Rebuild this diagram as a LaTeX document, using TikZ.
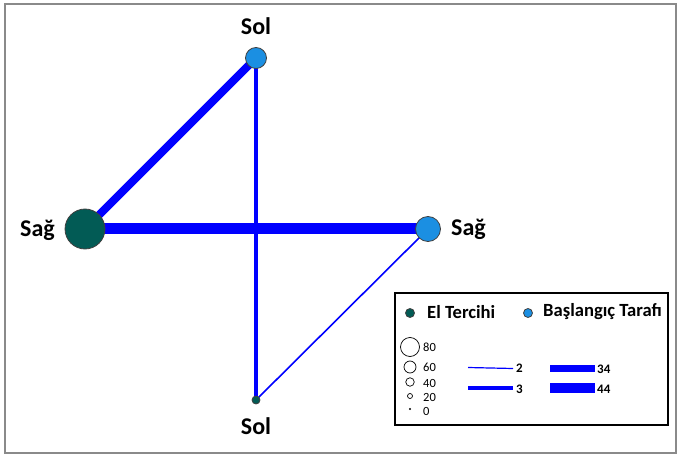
\documentclass[tikz,border=0pt]{standalone}
\usepackage{fontspec}
\setmainfont{Carlito}
\definecolor{nodegreen}{HTML}{025B55}
\definecolor{nodeblue}{HTML}{1B8FE2}
\definecolor{edgeblue}{HTML}{0000FF}
\definecolor{framegray}{HTML}{8A8A8A}
\begin{document}
\begin{tikzpicture}[x=1pt,y=-1pt,
  vtx/.style={circle,draw=black!75,line width=0.8pt,inner sep=0pt},
  hand/.style={vtx,fill=nodegreen},
  start/.style={vtx,fill=nodeblue},
  lbl/.style={font=\bfseries\fontsize{24}{24}\selectfont,inner sep=0pt},
  edge/.style={draw=edgeblue},
  legtxt/.style={font=\bfseries\fontsize{18.6}{18.6}\selectfont,inner sep=0pt,anchor=west},
  numtxt/.style={font=\fontsize{12.5}{12.5}\selectfont,inner sep=0pt,anchor=west},
  wtxt/.style={font=\bfseries\fontsize{13}{13}\selectfont,inner sep=0pt,anchor=west},
  sizec/.style={circle,draw=black,line width=0.7pt,fill=white,inner sep=0pt}
]
\useasboundingbox (0,0) rectangle (677,454);
\draw[framegray,line width=1.2pt] (5,4) rectangle (676,453);

% nodes
\coordinate (cst) at (256,58);
\coordinate (chl) at (85,229);
\coordinate (csr) at (428,229);
\coordinate (chb) at (256,400);

% edges
\draw[edge,line width=8pt] (chl) -- (cst);
\draw[edge,line width=11pt] (chl) -- (csr);
\draw[edge,line width=4pt] (cst) -- (chb);
\draw[edge,line width=1.6pt] (csr) -- (chb);

\node[start,minimum size=21pt] (st) at (cst) {};
\node[hand,minimum size=40pt] (hl) at (chl) {};
\node[start,minimum size=25pt] (sr) at (csr) {};
\node[hand,minimum size=8pt] (hb) at (chb) {};

\node[lbl] (lst) at (256,26) {Sol};
\node[lbl,anchor=east] (lhl) at (55,230) {Sağ};
\node[lbl,anchor=west] (lsr) at (451,229) {Sağ};
\node[lbl] (lhb) at (256,426) {Sol};

% legend
\draw[black,line width=1.5pt] (395,293) rectangle (668,425);
\node[hand,minimum size=9pt] (lg1) at (410,313) {};
\node[legtxt] (lgt1) at (427,312) {El Tercihi};
\node[start,minimum size=9pt] (lg2) at (528,313) {};
\node[legtxt] (lgt2) at (543,312) {Başlangıç Tarafı};

\node[sizec,minimum size=19pt] (s80) at (410,347) {};
\node[sizec,minimum size=12pt] (s60) at (410,367) {};
\node[sizec,minimum size=8.5pt] (s40) at (410,382) {};
\node[sizec,minimum size=5pt] (s20) at (410,396) {};
\node[circle,fill=black,inner sep=0pt,minimum size=2.2pt] (s0) at (410,409) {};
\node[numtxt] (n80) at (423,347) {80};
\node[numtxt] (n60) at (423,367) {60};
\node[numtxt] (n40) at (423,383) {40};
\node[numtxt] (n20) at (423,397) {20};
\node[numtxt] (n0) at (423,411) {0};

\coordinate (w2a) at (468,367.5);
\coordinate (w2b) at (513,368.5);
\coordinate (w3a) at (468,388);
\coordinate (w3b) at (513,388);
\draw[edge,line width=1.2pt] (w2a) -- (w2b);
\draw[edge,line width=3.2pt] (w3a) -- (w3b);
\node[wtxt] (t2) at (516,368) {2};
\node[wtxt] (t3) at (516,389) {3};
\fill[edgeblue] (550,365) rectangle (595,372);
\fill[edgeblue] (550,383) rectangle (595,393);
\node[wtxt] (t34) at (597,369) {34};
\node[wtxt] (t44) at (597,389) {44};
\end{tikzpicture}
\end{document}
